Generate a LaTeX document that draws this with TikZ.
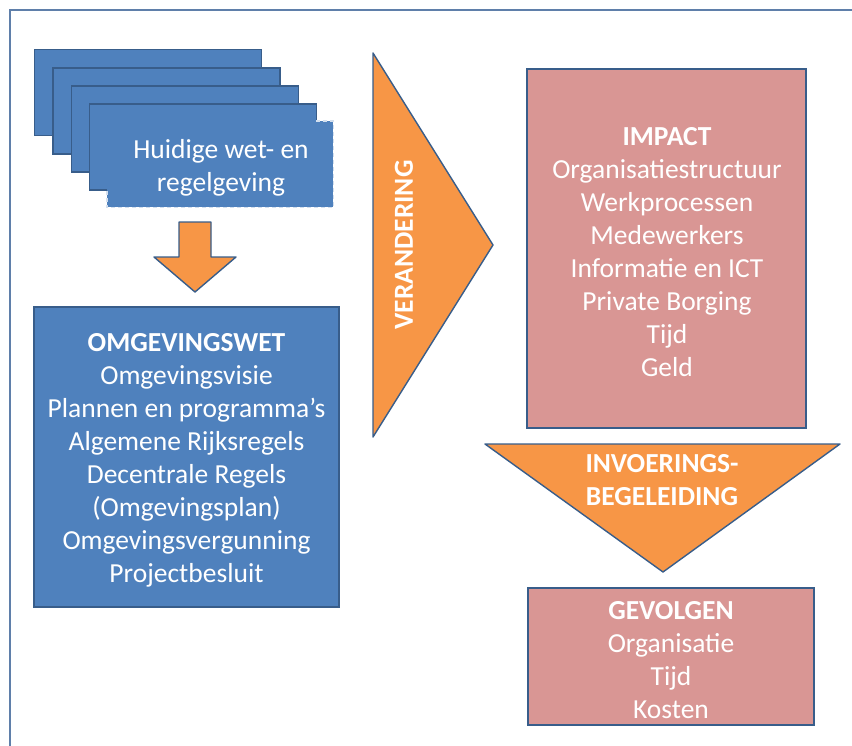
\documentclass[tikz,border=0pt]{standalone}
\usepackage{fontspec}
\setmainfont{Carlito}
\usepackage{tikz}
\usetikzlibrary{positioning}

\definecolor{docblue}{HTML}{4F81BD}
\definecolor{lineblue}{HTML}{385D8A}
\definecolor{framecol}{HTML}{5F7FAA}
\definecolor{arroworange}{HTML}{F79646}
\definecolor{impactpink}{HTML}{D99694}

\tikzset{
  doc/.style = {draw=lineblue, line width=1.4pt, fill=docblue},
  pinkbox/.style = {draw=lineblue, line width=1.6pt, fill=impactpink},
  arrowshape/.style = {draw=lineblue, line width=1.4pt, fill=arroworange, line join=round},
  label/.style = {text=white, align=center, inner sep=0pt,
                  font=\fontsize{27.5}{33}\selectfont}
}

\begin{document}
\begin{tikzpicture}[x=1pt,y=-1pt]
\useasboundingbox (0,0) rectangle (852,745);
\draw[framecol, line width=2.2pt] (860,10) -- (10,10) -- (10,752);

% stapel documenten
\foreach \i in {0,1,2,3}
  \node[doc, anchor=north west, minimum width=227, minimum height=86]
    (doc_\i) at (34+18.3*\i, 49+18.1*\i) {};
\node[fill=docblue, anchor=north west, minimum width=226, minimum height=86]
  (doc_top) at (107,121) {};
\draw[white!75!docblue, line width=1.3pt, dash pattern=on 4pt off 3pt]
  (316,121) -- (doc_top.north east) -- (doc_top.south east)
  -- (doc_top.south west) -- (107,189);
\node[label] (huidig) at (221,168) {Huidige wet- en\\regelgeving};

% pijl naar omgevingswet
\draw[arrowshape] (179,222) -- (211,222) -- (211,257) -- (236,257)
  -- (195,292) -- (154,257) -- (179,257) -- cycle;

\node[doc, minimum width=305, minimum height=300] (wet) at (186.5,457) {};
\node[label] (wet_tekst) at (186.5,460)
  {\textbf{OMGEVINGSWET}\\Omgevingsvisie\\Plannen en programma’s\\
   Algemene Rijksregels\\Decentrale Regels\\(Omgevingsplan)\\
   Omgevingsvergunning\\Projectbesluit};

% verandering
\draw[arrowshape] (373,53) -- (493,245) -- (373,437) -- cycle;
\node[label, rotate=90] (verandering) at (404,245) {\textbf{VERANDERING}};

\node[pinkbox, minimum width=279, minimum height=359] (impact) at (666.5,248.5) {};
\node[label] (impact_tekst) at (667,252)
  {\textbf{IMPACT}\\Organisatiestructuur\\Werkprocessen\\Medewerkers\\
   Informatie en ICT\\Private Borging\\Tijd\\Geld};

% invoeringsbegeleiding
\draw[arrowshape] (485,444) -- (840,444) -- (663,572) -- cycle;
\node[label] (invoering) at (662,480) {\textbf{INVOERINGS-}\\\textbf{BEGELEIDING}};

\node[pinkbox, minimum width=286, minimum height=137] (gevolgen) at (671,656.5) {};
\node[label] (gevolgen_tekst) at (671,660)
  {\textbf{GEVOLGEN}\\Organisatie\\Tijd\\Kosten};
\end{tikzpicture}
\end{document}
